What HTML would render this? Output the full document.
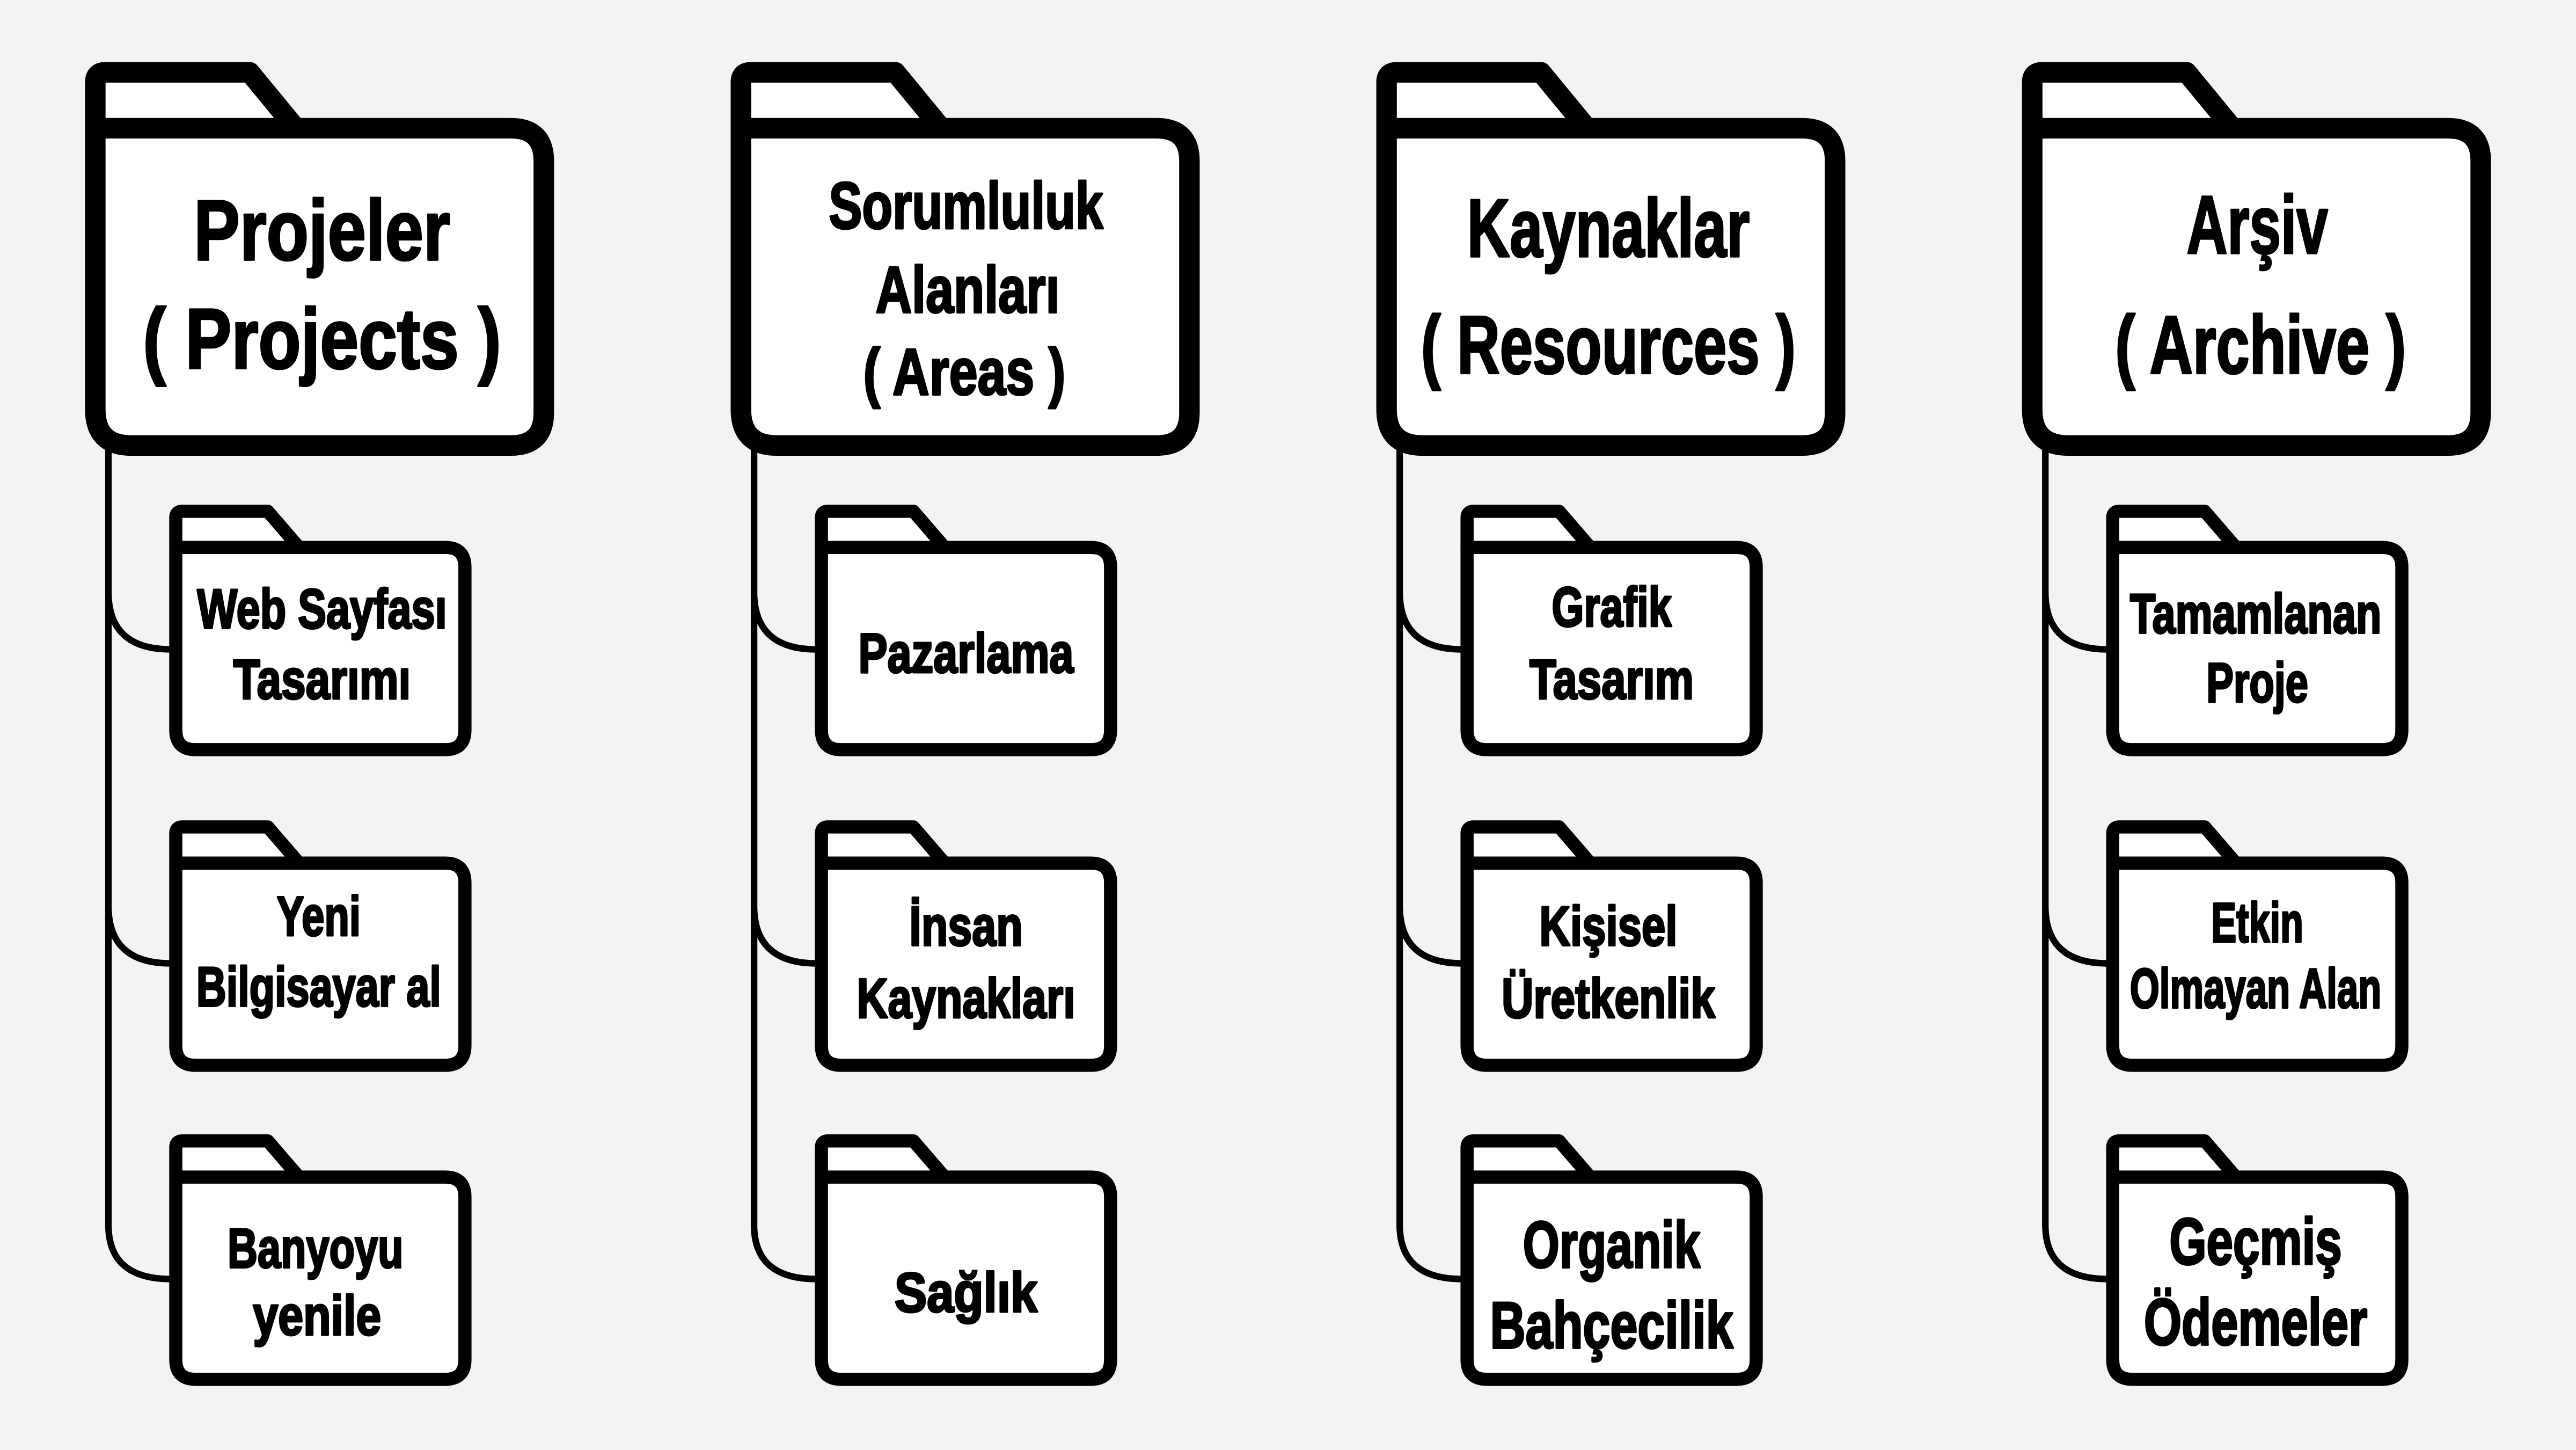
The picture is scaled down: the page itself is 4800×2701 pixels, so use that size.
<!DOCTYPE html>
<html><head><meta charset="utf-8"><style>
html,body{margin:0;padding:0;background:#f3f3f3;}
svg{display:block;}
text{font-family:"Liberation Sans Narrow","Liberation Sans",sans-serif;font-weight:bold;fill:#000;stroke:#000;stroke-width:1.3;stroke-linejoin:round;text-anchor:middle;}
</style></head><body>
<svg width="4800" height="2701" viewBox="0 0 1568 882" preserveAspectRatio="none" xmlns="http://www.w3.org/2000/svg">
<rect width="1568" height="882" fill="#f3f3f3"/>
<defs>
<g id="big">
<path d="M58,78 V50 Q58,44 64,44 H152 L180,78" fill="#fff" stroke="#000" stroke-width="12.5" stroke-linejoin="round"/>
<path d="M58,78 H311 Q331,78 331,98 V251 Q331,271 311,271 H80 Q58,271 58,249 Z" fill="#fff" stroke="#000" stroke-width="12.5" stroke-linejoin="round"/>
</g>
<g id="small">
<path d="M107,333 V315 Q107,311 111,311 H163 L182,333" fill="#fff" stroke="#000" stroke-width="8" stroke-linejoin="round"/>
<path d="M107,333 H271 Q283,333 283,345 V444 Q283,456 271,456 H119 Q107,456 107,444 Z" fill="#fff" stroke="#000" stroke-width="8" stroke-linejoin="round"/>
</g>
<g id="col">
<path d="M66,271 V745 Q66,778 104,778 M66,360 Q66,395 104,395 M66,551 Q66,586 104,586" fill="none" stroke="#000" stroke-width="4"/>
<use href="#big"/>
<use href="#small"/>
<use href="#small" y="192"/>
<use href="#small" y="383"/>
</g>
</defs>
<use href="#col"/>
<use href="#col" x="393"/>
<use href="#col" x="786"/>
<use href="#col" x="1179"/>

<text x="196" y="158" font-size="52" textLength="156" lengthAdjust="spacingAndGlyphs">Projeler</text>
<text x="196" y="224" font-size="52" textLength="218" lengthAdjust="spacingAndGlyphs">( Projects )</text>
<text x="588" y="139" font-size="40" textLength="167" lengthAdjust="spacingAndGlyphs">Sorumluluk</text>
<text x="589" y="190" font-size="40" textLength="112" lengthAdjust="spacingAndGlyphs">Alanları</text>
<text x="587" y="240" font-size="40" textLength="123" lengthAdjust="spacingAndGlyphs">( Areas )</text>
<text x="979" y="156" font-size="50" textLength="172" lengthAdjust="spacingAndGlyphs">Kaynaklar</text>
<text x="979" y="227" font-size="50" textLength="228" lengthAdjust="spacingAndGlyphs">( Resources )</text>
<text x="1374" y="154" font-size="50" textLength="86" lengthAdjust="spacingAndGlyphs">Arşiv</text>
<text x="1376" y="227" font-size="50" textLength="177" lengthAdjust="spacingAndGlyphs">( Archive )</text>

<g font-size="34">
<text x="196" y="382" textLength="152" lengthAdjust="spacingAndGlyphs">Web Sayfası</text>
<text x="196" y="425" textLength="108" lengthAdjust="spacingAndGlyphs">Tasarımı</text>
<text x="588" y="409" textLength="131" lengthAdjust="spacingAndGlyphs">Pazarlama</text>
<text x="981" y="381" textLength="73" lengthAdjust="spacingAndGlyphs">Grafik</text>
<text x="981" y="425" textLength="100" lengthAdjust="spacingAndGlyphs">Tasarım</text>
<text x="1373" y="385" textLength="153" lengthAdjust="spacingAndGlyphs">Tamamlanan</text>
<text x="1374" y="427" textLength="62" lengthAdjust="spacingAndGlyphs">Proje</text>

<text x="194" y="569" textLength="51" lengthAdjust="spacingAndGlyphs">Yeni</text>
<text x="194" y="612" textLength="149" lengthAdjust="spacingAndGlyphs">Bilgisayar al</text>
<text x="588" y="575" textLength="69" lengthAdjust="spacingAndGlyphs">İnsan</text>
<text x="588" y="619" textLength="133" lengthAdjust="spacingAndGlyphs">Kaynakları</text>
<text x="979" y="575" textLength="84" lengthAdjust="spacingAndGlyphs">Kişisel</text>
<text x="979" y="619" textLength="130" lengthAdjust="spacingAndGlyphs">Üretkenlik</text>
<text x="1374" y="573" textLength="56" lengthAdjust="spacingAndGlyphs">Etkin</text>
<text x="1373" y="613" textLength="153" lengthAdjust="spacingAndGlyphs">Olmayan Alan</text>

<text x="192" y="771" textLength="107" lengthAdjust="spacingAndGlyphs">Banyoyu</text>
<text x="193" y="812" textLength="78" lengthAdjust="spacingAndGlyphs">yenile</text>
<text x="588" y="798" textLength="87" lengthAdjust="spacingAndGlyphs">Sağlık</text>
</g>
<g font-size="40">
<text x="981" y="771" textLength="108" lengthAdjust="spacingAndGlyphs">Organik</text>
<text x="981" y="820" textLength="148" lengthAdjust="spacingAndGlyphs">Bahçecilik</text>
<text x="1373" y="769" textLength="105" lengthAdjust="spacingAndGlyphs">Geçmiş</text>
<text x="1373" y="818" textLength="136" lengthAdjust="spacingAndGlyphs">Ödemeler</text>
</g>
</svg>
</body></html>
